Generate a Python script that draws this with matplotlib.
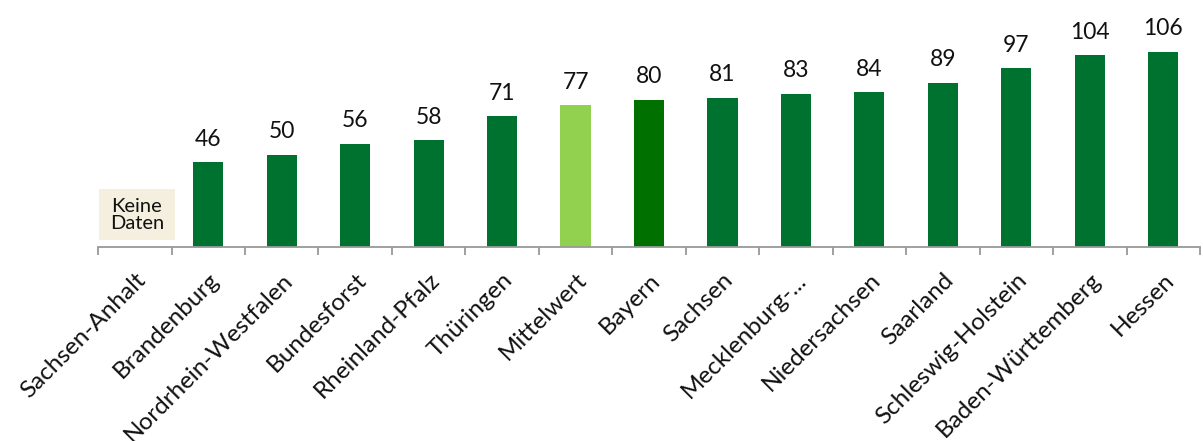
import matplotlib
matplotlib.use("Agg")
import matplotlib.pyplot as plt
from matplotlib.patches import Rectangle

laender = ["Sachsen-Anhalt", "Brandenburg", "Nordrhein-Westfalen", "Bundesforst",
           "Rheinland-Pfalz", "Thüringen", "Mittelwert", "Bayern", "Sachsen",
           "Mecklenburg-...", "Niedersachsen", "Saarland", "Schleswig-Holstein",
           "Baden-Württemberg", "Hessen"]
werte = [None, 46, 50, 56, 58, 71, 77, 80, 81, 83, 84, 89, 97, 104, 106]

gruen = "#00722f"
farben = [gruen] * len(laender)
farben[6] = "#92d050"
farben[7] = "#007000"

plt.rcParams["font.family"] = ["Lato", "DejaVu Sans"]

fig = plt.figure(figsize=(12.03, 4.41), dpi=100)
ax = fig.add_axes([0.0815, 0.44, 0.916, 0.56])

x = list(range(len(laender)))
for i, v in enumerate(werte):
    if v is None:
        continue
    ax.bar(i, v, width=0.41, color=farben[i])
    ax.annotate(str(v), (i, v), xytext=(0, 9), textcoords="offset points",
                ha="center", va="bottom", fontsize=16.5, color="#111111")

# Kasten "Keine Daten"
ax.add_patch(Rectangle((-0.49, 4), 1.04, 27.5, facecolor="#f4efdf", edgecolor="none"))
ax.text(0.03, 17.5, "Keine\nDaten", ha="center", va="center", fontsize=14.5,
        color="#111111", linespacing=1.0)

ax.set_xlim(-0.5, len(laender) - 0.5)
ax.set_ylim(0, 134)
for s in ["top", "right", "left"]:
    ax.spines[s].set_visible(False)
ax.spines["bottom"].set_color("#999999")
ax.spines["bottom"].set_linewidth(1.3)
ax.set_yticks([])

ax.set_xticks([i - 0.5 for i in range(len(laender) + 1)])
ax.set_xticklabels([])
ax.tick_params(axis="x", length=6, width=1.3, color="#999999", direction="out")
ax.set_xticks(x, minor=True)
ax.set_xticklabels(laender, minor=True, rotation=45, ha="right", rotation_mode="anchor",
                   fontsize=17.5, color="#111111")
ax.tick_params(axis="x", which="minor", length=0, pad=16)

fig.savefig("out.png", dpi=100)
